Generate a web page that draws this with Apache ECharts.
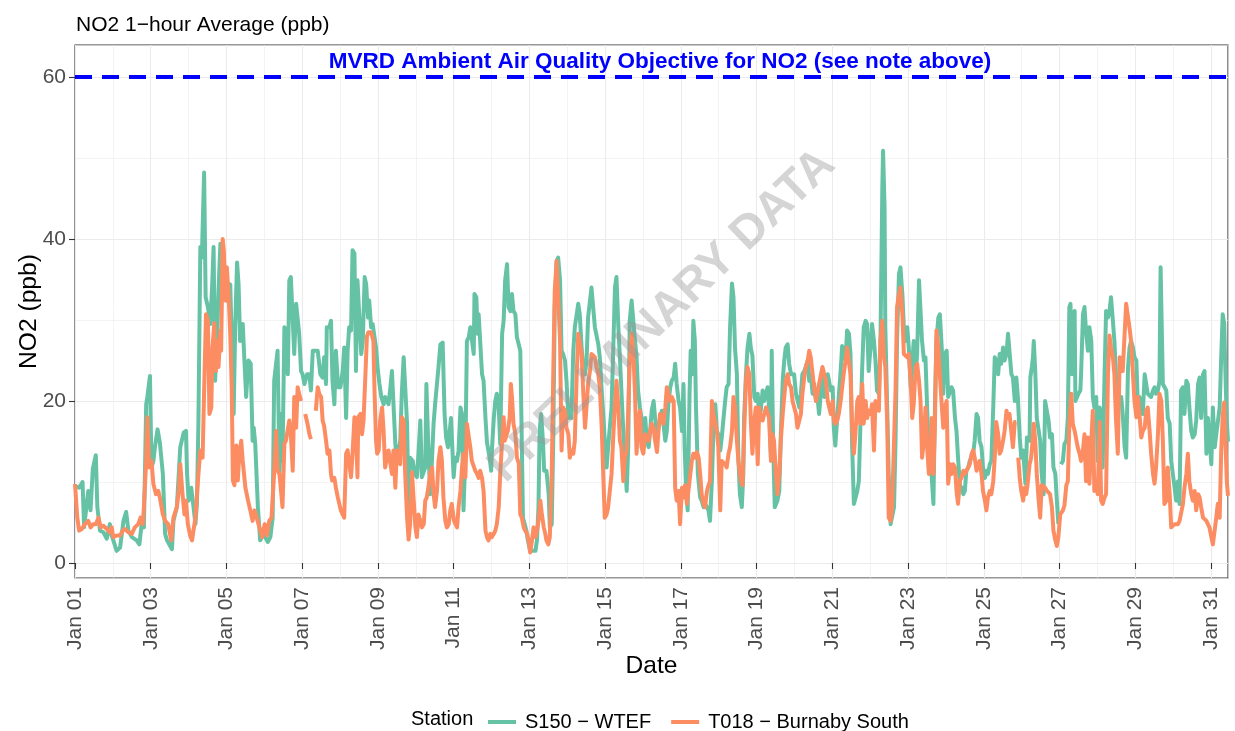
<!DOCTYPE html>
<html><head><meta charset="utf-8">
<script src="https://cdn.jsdelivr.net/npm/echarts@6/dist/echarts.min.js"></script>
<style>html,body{margin:0;padding:0;background:#fff}#c{width:1235px;height:731px}</style>
</head><body><div id="c"></div>
<script>
// Days since Jan 01 00:00, and NO2 (ppb) values
const s150 = [[0,9.5],[0.11,9.3],[0.2,10.0],[0.24,4.4],[0.35,8.9],[0.41,6.5],[0.47,11.6],[0.55,13.3],[0.59,6.9],[0.66,4.0],[0.75,3.8],[0.84,3.0],[0.92,4.8],[0.97,3.4],[1.1,1.5],[1.19,1.9],[1.28,5.2],[1.35,6.3],[1.41,4.0],[1.5,3.2],[1.63,2.8],[1.7,2.3],[1.76,4.8],[1.82,4.4],[1.88,19.6],[1.91,20.5],[1.98,23.1],[2.02,11.8],[2.07,12.6],[2.11,14.3],[2.18,16.5],[2.24,14.9],[2.32,11.0],[2.38,3.6],[2.43,2.8],[2.56,1.7],[2.6,5.2],[2.69,6.9],[2.78,14.3],[2.87,16.1],[2.93,16.3],[2.96,11.0],[3.0,7.7],[3.07,9.3],[3.13,6.9],[3.18,4.8],[3.22,7.3],[3.26,17.6],[3.31,39.0],[3.35,37.7],[3.41,48.2],[3.45,32.8],[3.51,31.6],[3.57,29.5],[3.62,34.0],[3.66,39.0],[3.7,22.5],[3.75,27.4],[3.79,33.6],[3.84,39.4],[3.88,33.6],[4.01,32.4],[4.1,34.4],[4.19,18.4],[4.23,29.1],[4.28,37.1],[4.32,34.4],[4.36,27.4],[4.43,29.5],[4.47,25.4],[4.52,20.5],[4.58,25.0],[4.64,24.6],[4.69,15.1],[4.72,16.7],[4.76,14.7],[4.83,6.9],[4.89,2.8],[4.98,3.6],[5.09,2.6],[5.16,3.2],[5.22,5.6],[5.26,22.5],[5.31,22.7],[5.35,26.2],[5.4,11.0],[5.44,18.4],[5.48,12.6],[5.53,29.1],[5.57,28.7],[5.62,23.3],[5.66,34.9],[5.7,35.3],[5.75,35.5],[5.79,25.8],[5.84,32.0],[5.88,32.0],[5.92,28.3],[5.97,23.7],[6.01,23.3],[6.06,22.1],[6.13,23.3],[6.19,23.3],[6.23,21.3],[6.28,26.2],[6.32,26.2],[6.41,26.2],[6.48,23.3],[6.54,22.9],[6.58,25.4],[6.63,22.1],[6.65,29.1],[6.72,29.1],[6.76,29.9],[6.8,22.5],[6.85,19.6],[6.89,26.2],[6.95,21.7],[7.01,21.7],[7.07,23.7],[7.11,26.6],[7.16,17.9],[7.2,26.2],[7.24,29.1],[7.29,28.7],[7.33,38.6],[7.38,38.2],[7.42,23.7],[7.46,34.9],[7.51,34.9],[7.56,25.8],[7.6,27.4],[7.65,35.3],[7.69,34.4],[7.74,30.3],[7.77,32.4],[7.82,29.1],[7.86,29.5],[7.91,29.5],[7.95,26.6],[8.0,23.7],[8.04,22.1],[8.09,20.5],[8.15,19.6],[8.19,20.5],[8.24,20.5],[8.28,19.6],[8.33,21.7],[8.37,23.7],[8.41,23.7],[8.46,14.7],[8.5,12.6],[8.55,13.9],[8.59,15.1],[8.63,20.9],[8.68,25.4],[8.72,25.4],[8.77,17.2],[8.81,6.0],[8.85,13.0],[8.92,12.6],[8.97,11.0],[9.03,10.6],[9.07,13.5],[9.12,17.6],[9.16,10.6],[9.21,10.6],[9.25,11.8],[9.28,22.1],[9.32,15.9],[9.38,8.5],[9.43,13.0],[9.47,17.2],[9.51,19.6],[9.56,19.6],[9.6,24.2],[9.65,27.0],[9.71,27.2],[9.76,18.4],[9.8,15.5],[9.85,14.3],[9.88,15.5],[9.93,17.9],[9.97,17.9],[10.0,10.6],[10.04,13.0],[10.09,12.6],[10.13,13.9],[10.18,19.2],[10.22,18.4],[10.26,6.5],[10.31,13.5],[10.35,27.4],[10.4,27.9],[10.44,29.1],[10.48,29.1],[10.53,25.8],[10.55,33.2],[10.6,32.8],[10.63,28.3],[10.66,30.7],[10.7,30.7],[10.75,23.3],[10.79,22.5],[10.84,17.9],[10.88,14.9],[10.92,14.7],[10.95,13.0],[10.99,11.4],[11.01,13.9],[11.06,17.9],[11.1,20.0],[11.14,20.9],[11.19,19.2],[11.23,14.7],[11.28,28.3],[11.32,29.9],[11.36,34.9],[11.41,36.9],[11.45,31.6],[11.5,31.1],[11.54,33.2],[11.58,31.1],[11.63,30.7],[11.67,27.9],[11.72,27.9],[11.76,26.2],[11.79,17.9],[11.83,5.6],[11.87,5.6],[11.92,4.0],[11.96,2.8],[12.02,1.5],[12.1,1.5],[12.16,1.5],[12.2,2.8],[12.24,6.9],[12.27,16.3],[12.31,18.4],[12.36,14.9],[12.39,11.4],[12.45,11.4],[12.51,8.5],[12.54,4.4],[12.59,4.8],[12.63,15.1],[12.67,31.6],[12.72,37.3],[12.76,37.7],[12.81,34.9],[12.85,26.2],[12.89,25.8],[12.94,25.0],[12.98,22.5],[13.03,17.9],[13.07,18.4],[13.11,17.9],[13.16,26.2],[13.2,29.1],[13.25,30.7],[13.29,32.0],[13.33,30.7],[13.38,26.6],[13.42,24.2],[13.47,23.3],[13.51,25.0],[13.55,30.3],[13.6,30.3],[13.64,34.0],[13.69,34.0],[13.73,29.1],[13.77,29.1],[13.82,27.0],[13.86,25.4],[13.91,21.3],[13.95,18.4],[13.99,15.1],[14.04,11.8],[14.08,14.3],[14.13,14.3],[14.17,19.2],[14.21,25.6],[14.26,34.0],[14.3,35.3],[14.35,29.1],[14.39,25.4],[14.43,21.3],[14.48,16.3],[14.52,16.3],[14.57,8.9],[14.61,14.3],[14.65,29.9],[14.7,32.4],[14.74,32.4],[14.79,27.4],[14.83,25.4],[14.87,21.3],[14.92,19.2],[14.96,17.9],[15.01,15.1],[15.06,17.9],[15.1,15.1],[15.15,14.3],[15.19,16.3],[15.23,18.8],[15.28,20.0],[15.32,17.9],[15.37,15.9],[15.41,15.9],[15.45,17.6],[15.5,18.8],[15.54,17.2],[15.59,15.1],[15.63,16.3],[15.67,19.6],[15.72,21.7],[15.76,22.5],[15.81,22.9],[15.85,24.6],[15.89,22.1],[15.94,20.0],[15.98,19.2],[16.03,16.3],[16.07,22.1],[16.1,14.3],[16.14,8.9],[16.18,6.5],[16.23,20.9],[16.26,26.2],[16.3,23.3],[16.33,29.9],[16.37,27.4],[16.4,19.2],[16.45,11.0],[16.51,8.1],[16.55,7.7],[16.6,6.9],[16.64,7.3],[16.69,6.9],[16.73,6.5],[16.77,5.2],[16.82,10.2],[16.86,16.3],[16.91,19.6],[16.95,16.3],[16.99,15.9],[17.04,13.9],[17.08,15.5],[17.13,15.5],[17.17,20.0],[17.21,21.7],[17.26,22.1],[17.3,29.1],[17.35,34.5],[17.39,32.8],[17.43,26.6],[17.48,23.3],[17.52,12.8],[17.56,8.5],[17.61,6.9],[17.65,11.0],[17.67,17.9],[17.72,23.3],[17.76,26.5],[17.81,28.3],[17.85,26.5],[17.89,25.6],[17.94,20.5],[17.98,20.0],[18.03,20.9],[18.07,18.4],[18.11,18.8],[18.16,21.3],[18.2,20.0],[18.25,20.9],[18.29,21.7],[18.33,19.2],[18.38,13.0],[18.4,26.2],[18.44,14.3],[18.48,6.9],[18.51,6.9],[18.55,7.7],[18.6,8.9],[18.64,15.9],[18.69,22.5],[18.73,25.0],[18.77,26.6],[18.82,27.0],[18.86,24.6],[18.91,23.3],[18.95,23.3],[18.99,23.3],[19.04,20.9],[19.08,20.9],[19.13,19.2],[19.17,20.9],[19.21,23.3],[19.26,23.7],[19.3,24.2],[19.35,25.0],[19.39,22.5],[19.43,23.3],[19.48,20.9],[19.52,22.1],[19.57,20.0],[19.61,20.5],[19.65,18.4],[19.7,18.4],[19.74,23.3],[19.79,20.5],[19.83,20.5],[19.88,23.3],[19.92,23.3],[19.96,21.3],[20.01,21.7],[20.04,16.7],[20.08,14.5],[20.13,17.9],[20.17,20.5],[20.22,23.7],[20.26,26.8],[20.3,26.6],[20.35,25.0],[20.39,28.7],[20.44,28.3],[20.48,25.8],[20.52,15.1],[20.57,7.3],[20.61,7.3],[20.66,8.9],[20.7,10.1],[20.74,16.7],[20.79,24.2],[20.83,29.1],[20.88,29.9],[20.92,29.5],[20.96,23.7],[21.01,26.6],[21.05,29.5],[21.1,27.4],[21.14,25.0],[21.18,21.3],[21.23,20.9],[21.27,26.6],[21.32,46.0],[21.34,50.9],[21.38,43.9],[21.4,29.1],[21.45,19.2],[21.49,11.0],[21.54,4.8],[21.58,4.8],[21.63,6.9],[21.67,15.1],[21.71,27.4],[21.76,35.7],[21.8,36.5],[21.85,33.2],[21.89,29.1],[21.93,27.4],[21.98,29.1],[22.02,26.6],[22.07,21.7],[22.11,21.7],[22.15,27.4],[22.2,23.3],[22.24,25.8],[22.29,34.9],[22.33,34.9],[22.37,27.4],[22.42,25.0],[22.46,25.4],[22.51,18.4],[22.55,12.6],[22.58,12.6],[22.62,11.0],[22.67,7.3],[22.71,19.2],[22.75,27.4],[22.8,30.3],[22.84,30.7],[22.89,26.6],[22.93,20.9],[22.97,25.8],[23.02,26.2],[23.06,20.5],[23.11,20.5],[23.15,21.7],[23.19,21.3],[23.24,17.9],[23.28,16.3],[23.32,13.0],[23.37,9.6],[23.41,9.3],[23.46,8.5],[23.5,8.9],[23.54,11.4],[23.59,11.8],[23.63,12.6],[23.68,12.6],[23.72,13.5],[23.76,15.1],[23.81,18.4],[23.85,17.9],[23.89,15.1],[23.94,14.3],[23.98,11.8],[24.03,10.5],[24.07,11.4],[24.11,11.0],[24.16,12.2],[24.2,12.6],[24.25,19.2],[24.29,25.4],[24.33,25.0],[24.38,23.3],[24.42,25.8],[24.46,24.6],[24.51,26.6],[24.55,25.0],[24.6,25.8],[24.64,28.3],[24.68,28.3],[24.73,23.3],[24.77,22.9],[24.82,20.0],[24.86,22.9],[24.9,20.5],[24.95,15.5],[24.99,13.0],[25.04,13.9],[25.1,9.8],[25.14,15.5],[25.21,15.1],[25.23,22.9],[25.27,24.2],[25.3,25.4],[25.32,27.4],[25.36,23.7],[25.4,17.9],[25.45,17.9],[25.49,15.1],[25.53,11.0],[25.58,8.5],[25.62,20.0],[25.67,20.0],[25.71,17.6],[25.75,15.5],[25.8,15.9],[25.84,11.8],[25.89,11.0],[25.93,7.7],[25.97,4.8],[26.0,null],[26.04,12.2],[26.09,12.6],[26.13,14.7],[26.18,15.1],[26.22,17.9],[26.26,31.6],[26.29,32.0],[26.33,23.3],[26.35,29.1],[26.4,31.1],[26.42,20.0],[26.47,20.0],[26.5,20.9],[26.55,21.3],[26.57,23.3],[26.62,30.7],[26.66,31.6],[26.7,28.7],[26.75,26.2],[26.79,29.1],[26.84,27.4],[26.88,20.5],[26.92,19.2],[26.97,20.5],[27.01,12.6],[27.06,19.2],[27.1,17.2],[27.14,11.8],[27.19,23.3],[27.23,31.1],[27.28,30.3],[27.32,31.1],[27.36,32.8],[27.41,29.9],[27.45,27.4],[27.49,23.3],[27.54,19.2],[27.59,20.0],[27.63,20.5],[27.67,18.4],[27.72,14.3],[27.76,13.0],[27.81,24.2],[27.85,26.6],[27.89,27.4],[27.94,26.6],[27.98,25.4],[28.03,25.0],[28.07,19.2],[28.11,20.5],[28.16,19.2],[28.2,18.4],[28.25,23.3],[28.29,23.3],[28.33,20.9],[28.38,20.9],[28.42,20.5],[28.47,21.3],[28.51,21.7],[28.55,20.9],[28.6,21.3],[28.64,22.5],[28.67,36.5],[28.7,36.5],[28.73,22.1],[28.77,22.1],[28.82,21.3],[28.86,17.9],[28.91,17.2],[28.95,12.6],[28.99,12.6],[29.04,9.3],[29.08,7.7],[29.13,10.1],[29.17,7.3],[29.21,21.3],[29.26,21.7],[29.3,18.4],[29.35,22.5],[29.39,22.1],[29.43,19.2],[29.48,16.3],[29.52,15.5],[29.57,15.9],[29.61,17.6],[29.66,22.1],[29.7,22.9],[29.74,17.9],[29.79,23.3],[29.83,23.7],[29.88,13.5],[29.92,17.9],[29.96,17.9],[30.01,12.2],[30.05,19.2],[30.1,14.3],[30.14,15.9],[30.18,15.9],[30.23,19.2],[30.27,25.4],[30.31,30.7],[30.35,29.5],[30.39,22.0],[30.42,17.5],[30.45,15.0]];

const t018 = [[0,9.75],[0.06,5.6],[0.11,4.0],[0.18,4.2],[0.26,4.8],[0.35,5.2],[0.41,4.4],[0.48,4.8],[0.55,4.8],[0.62,5.6],[0.68,4.4],[0.75,4.6],[0.84,4.2],[0.91,3.8],[0.97,4.4],[1.01,3.2],[1.1,3.4],[1.19,3.4],[1.26,4.0],[1.32,4.2],[1.41,3.8],[1.5,3.6],[1.58,4.4],[1.67,4.8],[1.73,5.6],[1.79,4.8],[1.82,6.9],[1.88,12.6],[1.91,18.0],[1.96,11.8],[2.02,12.6],[2.07,9.75],[2.14,8.5],[2.2,8.9],[2.24,8.1],[2.32,6.0],[2.38,5.2],[2.46,4.8],[2.54,2.8],[2.6,5.6],[2.69,6.9],[2.74,8.9],[2.78,12.2],[2.84,8.5],[2.89,6.0],[2.93,7.7],[2.98,4.8],[3.04,3.4],[3.09,2.8],[3.18,5.6],[3.26,11.0],[3.31,13.9],[3.37,13.0],[3.42,23.3],[3.46,30.7],[3.51,29.9],[3.55,18.4],[3.6,19.2],[3.63,26.6],[3.68,29.6],[3.72,23.7],[3.77,27.4],[3.79,24.2],[3.84,28.7],[3.86,26.2],[3.9,40.0],[3.93,38.6],[3.97,32.4],[4.01,36.5],[4.06,32.8],[4.1,28.3],[4.14,21.3],[4.17,10.2],[4.21,9.6],[4.26,14.5],[4.3,10.2],[4.34,13.5],[4.39,15.1],[4.43,12.6],[4.5,9.3],[4.57,7.7],[4.63,6.5],[4.69,5.2],[4.74,6.5],[4.8,5.6],[4.87,4.4],[4.94,3.2],[5.01,4.8],[5.07,3.4],[5.13,5.2],[5.19,5.6],[5.25,10.3],[5.31,16.3],[5.35,11.4],[5.4,11.0],[5.44,8.9],[5.48,6.9],[5.53,14.7],[5.57,15.1],[5.62,15.1],[5.66,17.6],[5.7,15.9],[5.75,11.4],[5.79,20.5],[5.84,16.7],[5.88,21.7],[5.92,20.9],[5.97,20.0],[6.02,null],[6.08,18.4],[6.14,17.2],[6.19,15.9],[6.23,15.3],[6.3,null],[6.36,18.8],[6.41,21.7],[6.45,20.9],[6.5,20.5],[6.54,17.6],[6.58,16.9],[6.63,15.1],[6.67,13.5],[6.72,13.9],[6.76,11.0],[6.79,10.2],[6.85,10.5],[6.89,9.3],[6.94,8.1],[6.98,7.3],[7.02,6.5],[7.07,6.0],[7.11,5.6],[7.16,13.5],[7.2,13.9],[7.24,13.7],[7.29,10.6],[7.33,13.5],[7.38,18.0],[7.42,16.3],[7.46,10.6],[7.48,18.0],[7.54,18.4],[7.58,15.9],[7.62,17.6],[7.67,23.3],[7.71,28.0],[7.75,28.5],[7.82,28.5],[7.88,27.4],[7.91,21.3],[7.95,15.1],[7.98,13.5],[8.02,13.9],[8.06,17.6],[8.11,19.2],[8.15,16.3],[8.19,11.8],[8.24,13.0],[8.28,13.9],[8.33,13.9],[8.37,11.0],[8.41,13.9],[8.46,9.3],[8.5,13.9],[8.55,13.5],[8.59,12.2],[8.63,18.0],[8.68,17.6],[8.72,11.0],[8.77,5.6],[8.81,2.9],[8.85,4.8],[8.9,11.2],[8.94,8.1],[8.99,4.4],[9.03,3.2],[9.07,6.0],[9.12,5.2],[9.16,4.4],[9.21,4.8],[9.25,7.7],[9.29,8.1],[9.34,9.6],[9.38,11.0],[9.43,11.8],[9.47,8.5],[9.51,6.9],[9.56,8.9],[9.6,12.6],[9.65,14.3],[9.69,12.6],[9.73,8.1],[9.78,5.2],[9.82,4.4],[9.87,4.8],[9.91,6.5],[9.95,7.3],[10.01,5.2],[10.04,5.2],[10.09,4.4],[10.13,6.9],[10.18,8.9],[10.22,11.8],[10.26,13.5],[10.31,10.6],[10.35,17.2],[10.4,17.2],[10.44,14.3],[10.48,12.6],[10.53,12.6],[10.57,11.4],[10.62,11.0],[10.66,10.5],[10.7,11.4],[10.75,10.5],[10.79,8.9],[10.84,4.0],[10.88,3.2],[10.92,2.8],[10.97,3.6],[11.01,3.2],[11.06,3.6],[11.1,4.0],[11.14,4.8],[11.19,6.9],[11.23,11.0],[11.28,15.1],[11.32,18.0],[11.35,15.1],[11.39,15.1],[11.43,16.3],[11.48,18.0],[11.51,22.1],[11.54,20.5],[11.58,17.2],[11.63,15.9],[11.67,13.0],[11.72,12.3],[11.76,6.0],[11.8,5.6],[11.85,4.4],[11.89,4.0],[11.94,3.6],[11.98,2.8],[12.02,1.3],[12.07,2.8],[12.11,4.4],[12.16,3.2],[12.2,4.0],[12.24,5.2],[12.29,7.7],[12.33,6.0],[12.38,4.4],[12.42,3.6],[12.45,2.8],[12.5,2.3],[12.54,3.2],[12.59,11.0],[12.63,23.3],[12.67,33.6],[12.72,37.3],[12.76,37.3],[12.81,27.4],[12.85,13.9],[12.89,19.2],[12.94,18.8],[12.98,16.7],[13.03,15.9],[13.07,13.0],[13.11,13.9],[13.16,13.5],[13.2,15.1],[13.25,23.3],[13.29,28.3],[13.33,28.3],[13.38,25.8],[13.42,21.3],[13.47,16.7],[13.51,16.7],[13.55,22.1],[13.6,23.7],[13.64,25.8],[13.69,25.8],[13.73,25.4],[13.77,24.2],[13.82,23.3],[13.86,21.7],[13.91,16.7],[13.95,11.0],[13.99,5.6],[14.04,6.0],[14.08,6.9],[14.13,6.9],[14.17,11.0],[14.21,15.1],[14.26,19.6],[14.3,22.5],[14.35,19.2],[14.39,15.1],[14.43,14.3],[14.48,10.1],[14.52,13.0],[14.57,13.9],[14.61,18.8],[14.65,24.9],[14.7,28.3],[14.74,26.6],[14.79,20.9],[14.83,13.5],[14.87,17.2],[14.92,18.8],[14.96,14.3],[15.01,13.5],[15.06,15.9],[15.1,15.9],[15.15,15.1],[15.19,16.3],[15.23,17.2],[15.28,16.7],[15.32,15.1],[15.37,13.7],[15.41,16.3],[15.45,18.4],[15.5,17.9],[15.54,17.2],[15.59,19.2],[15.63,21.7],[15.67,20.9],[15.72,20.0],[15.76,20.5],[15.81,20.0],[15.85,9.3],[15.89,7.7],[15.94,8.9],[15.98,4.8],[16.03,9.3],[16.07,8.1],[16.11,9.6],[16.16,7.3],[16.2,8.9],[16.25,11.0],[16.29,12.6],[16.33,13.5],[16.38,13.0],[16.42,13.7],[16.47,13.0],[16.51,11.0],[16.55,8.5],[16.6,7.3],[16.64,6.9],[16.69,8.9],[16.73,9.6],[16.77,10.1],[16.82,20.0],[16.86,18.4],[16.91,17.2],[16.95,16.3],[16.99,14.3],[17.04,6.5],[17.08,12.6],[17.13,12.6],[17.17,12.2],[17.21,11.8],[17.26,13.5],[17.3,14.3],[17.35,16.3],[17.39,20.5],[17.43,19.2],[17.48,15.1],[17.52,12.6],[17.56,11.0],[17.59,10.1],[17.63,9.6],[17.67,15.9],[17.72,22.5],[17.76,24.2],[17.81,23.3],[17.85,17.2],[17.89,13.5],[17.94,17.6],[17.98,19.2],[18.03,12.2],[18.07,19.2],[18.11,17.9],[18.16,17.6],[18.2,18.4],[18.25,19.2],[18.29,19.2],[18.33,17.9],[18.38,12.6],[18.42,15.9],[18.46,15.1],[18.51,11.0],[18.55,8.5],[18.6,11.0],[18.64,15.1],[18.69,18.4],[18.73,20.5],[18.77,22.5],[18.82,23.3],[18.86,22.1],[18.91,21.7],[18.95,20.0],[18.99,20.0],[19.04,18.4],[19.08,16.7],[19.13,16.7],[19.17,18.4],[19.21,20.9],[19.26,22.9],[19.3,24.2],[19.35,25.0],[19.39,26.2],[19.43,25.4],[19.48,23.3],[19.52,21.7],[19.57,20.0],[19.61,20.0],[19.65,22.1],[19.7,23.3],[19.74,24.2],[19.79,24.2],[19.83,22.5],[19.88,20.0],[19.92,19.2],[19.96,18.4],[20.01,20.0],[20.04,17.6],[20.08,17.2],[20.13,17.6],[20.17,18.4],[20.22,20.0],[20.26,21.7],[20.3,23.3],[20.35,25.0],[20.39,26.6],[20.44,26.6],[20.48,23.3],[20.52,17.2],[20.57,13.5],[20.61,15.9],[20.66,20.0],[20.7,20.5],[20.74,17.2],[20.79,22.1],[20.83,17.2],[20.88,20.0],[20.92,17.9],[20.96,18.8],[21.01,18.4],[21.05,19.6],[21.1,13.9],[21.14,20.0],[21.18,19.2],[21.23,18.8],[21.27,27.4],[21.32,29.9],[21.36,25.6],[21.4,24.2],[21.45,17.2],[21.49,5.6],[21.54,5.2],[21.58,6.9],[21.63,15.1],[21.67,21.3],[21.71,31.6],[21.76,33.2],[21.8,34.0],[21.85,30.7],[21.89,25.8],[21.93,25.8],[21.98,25.4],[22.02,25.8],[22.07,22.5],[22.11,17.9],[22.15,19.6],[22.2,24.2],[22.24,24.6],[22.29,22.5],[22.33,20.0],[22.37,13.0],[22.42,15.1],[22.46,19.2],[22.51,13.9],[22.55,11.0],[22.58,11.4],[22.62,17.9],[22.67,11.0],[22.71,17.0],[22.75,28.7],[22.8,26.6],[22.84,23.3],[22.89,19.5],[22.93,16.7],[22.97,19.2],[23.02,20.0],[23.06,9.8],[23.11,12.2],[23.15,11.0],[23.19,12.2],[23.24,11.8],[23.28,8.9],[23.32,7.3],[23.37,10.2],[23.41,10.5],[23.46,11.4],[23.5,11.0],[23.54,11.0],[23.59,11.8],[23.63,12.2],[23.68,13.5],[23.72,13.9],[23.76,13.0],[23.81,11.4],[23.85,11.4],[23.89,12.6],[23.94,11.0],[23.98,8.9],[24.03,7.7],[24.07,6.5],[24.11,8.1],[24.16,8.9],[24.2,8.5],[24.25,10.1],[24.29,13.0],[24.33,17.4],[24.38,15.9],[24.42,13.5],[24.46,13.9],[24.51,15.1],[24.55,16.3],[24.6,18.8],[24.64,17.9],[24.68,18.4],[24.73,18.4],[24.77,14.3],[24.82,17.4],[24.86,17.4],[24.88,null],[24.91,13.0],[24.95,10.5],[24.99,8.9],[25.04,7.7],[25.08,9.3],[25.12,8.5],[25.16,9.8],[25.21,12.2],[25.25,13.0],[25.29,15.1],[25.32,17.2],[25.36,15.1],[25.4,11.0],[25.45,7.7],[25.49,5.6],[25.53,9.6],[25.58,9.6],[25.62,9.3],[25.67,8.9],[25.71,8.9],[25.75,8.5],[25.8,6.9],[25.84,4.0],[25.89,2.8],[25.93,2.1],[25.97,3.2],[26.02,6.0],[26.09,6.5],[26.13,7.1],[26.18,9.6],[26.22,10.1],[26.26,17.2],[26.31,20.9],[26.35,17.2],[26.4,16.3],[26.44,16.3],[26.48,14.3],[26.53,13.5],[26.57,12.6],[26.62,13.9],[26.66,15.9],[26.7,10.1],[26.75,15.5],[26.79,9.8],[26.84,15.1],[26.88,18.8],[26.92,8.9],[26.97,9.6],[27.01,8.5],[27.06,17.4],[27.1,7.7],[27.14,7.3],[27.19,8.1],[27.23,8.5],[27.28,23.3],[27.32,28.1],[27.36,26.6],[27.41,25.4],[27.45,23.3],[27.49,17.9],[27.54,13.5],[27.59,25.4],[27.63,25.4],[27.67,23.7],[27.72,28.3],[27.76,32.0],[27.81,32.0],[27.85,29.0],[27.89,27.4],[27.94,23.3],[27.98,20.0],[28.03,18.0],[28.07,20.5],[28.11,18.4],[28.16,15.5],[28.2,16.3],[28.25,16.7],[28.29,18.8],[28.33,19.2],[28.38,16.3],[28.42,13.5],[28.47,11.0],[28.51,9.8],[28.55,11.8],[28.6,15.9],[28.64,20.9],[28.69,20.0],[28.73,15.1],[28.77,7.3],[28.82,7.7],[28.86,11.8],[28.91,8.5],[28.95,4.4],[28.99,4.4],[29.04,4.8],[29.08,4.8],[29.13,4.8],[29.17,5.2],[29.21,5.2],[29.26,7.3],[29.3,9.3],[29.35,11.0],[29.39,13.5],[29.43,10.1],[29.48,8.5],[29.52,7.7],[29.57,8.9],[29.61,6.5],[29.66,8.5],[29.7,8.1],[29.74,6.9],[29.79,5.6],[29.83,5.6],[29.88,5.2],[29.92,5.2],[29.96,4.4],[30.01,3.2],[30.05,2.3],[30.1,2.3],[30.14,5.6],[30.18,7.3],[30.23,5.6],[30.27,13.7],[30.31,18.2],[30.35,19.8],[30.39,14.0],[30.42,10.0],[30.45,8.3]];

const seriesNames = ['S150 \u2212 WTEF', 'T018 \u2212 Burnaby South'];
const seriesColors = ['#66C2A5', '#FC8D62'];
const xTickDays = [0,2,4,6,8,10,12,14,16,18,20,22,24,26,28,30];
const xTickLabels = ['Jan 01','Jan 03','Jan 05','Jan 07','Jan 09','Jan 11','Jan 13','Jan 15','Jan 17','Jan 19','Jan 21','Jan 23','Jan 25','Jan 27','Jan 29','Jan 31'];
const yTicks = [0,20,40,60];
const objectiveValue = 60;
const X_MIN = 0, X_MAX = 30.45, Y_MIN = -1.85, Y_MAX = 63.95;

const FONT = 'Liberation Sans, Arial, Helvetica, sans-serif';
const toData = arr => arr.map(p => [p[0], p[1] === null ? '-' : p[1]]);
const xLabel = v => { const i = xTickDays.indexOf(Math.round(v*1000)/1000); return i >= 0 ? xTickLabels[i] : ''; };
const yLabel = v => yTicks.indexOf(v) >= 0 ? String(v) : '';

const chart = echarts.init(document.getElementById('c'), null, {renderer: 'canvas'});
const gridColor = '#EBEBEB';
chart.setOption({
  animation: false,
  backgroundColor: '#fff',
  textStyle: {fontFamily: FONT},
  title: {text: 'NO2 1\u2212hour Average (ppb)', left: 71, top: 10,
    textStyle: {fontFamily: FONT, fontSize: 21, fontWeight: 'normal', color: '#000'}},
  grid: {left: 75, right: 7, top: 45, bottom: 153, show: true, borderColor: '#333333', borderWidth: 1.1, backgroundColor: '#fff'},
  xAxis: [
    {type: 'value', min: X_MIN, max: X_MAX, interval: 2,
     axisLine: {show: false},
     axisTick: {show: true, length: 6, customValues: xTickDays, lineStyle: {color: '#333333', width: 1.1}},
     axisLabel: {customValues: xTickDays, formatter: xLabel, rotate: 90, margin: 9, color: '#4D4D4D', fontSize: 21, fontFamily: FONT},
     splitLine: {show: true, lineStyle: {color: gridColor, width: 1.1}},
     name: 'Date', nameLocation: 'middle', nameGap: 76, nameMoveOverlap: false,
     nameTextStyle: {fontSize: 24.6, color: '#000', fontFamily: FONT}},
    {type: 'value', min: X_MIN, max: X_MAX, interval: 1,
     axisLine: {show: false}, axisTick: {show: false}, axisLabel: {show: false},
     splitLine: {show: true, lineStyle: {color: gridColor, width: 0.6}}}
  ],
  yAxis: [
    {type: 'value', min: Y_MIN, max: Y_MAX, splitNumber: 3,
     axisLine: {show: false},
     axisTick: {show: true, length: 6, customValues: yTicks, lineStyle: {color: '#333333', width: 1.1}},
     axisLabel: {customValues: yTicks, formatter: yLabel, margin: 9, color: '#4D4D4D', fontSize: 21, fontFamily: FONT},
     splitLine: {show: true, lineStyle: {color: gridColor, width: 1.1}},
     name: 'NO2 (ppb)', nameLocation: 'middle', nameGap: 33, nameRotate: 90, nameMoveOverlap: false,
     nameTextStyle: {fontSize: 24.6, color: '#000', fontFamily: FONT}},
    {type: 'value', min: Y_MIN, max: Y_MAX, splitNumber: 6, position: 'left',
     axisLine: {show: false}, axisTick: {show: false}, axisLabel: {show: false},
     splitLine: {show: true, lineStyle: {color: gridColor, width: 0.6}}}
  ],
  legend: {left: 483, top: 707, itemWidth: 28, itemHeight: 4, itemGap: 20, icon: 'rect',
    textStyle: {fontSize: 20, color: '#000', fontFamily: FONT, padding: [0, 0, 0, 4]},
    data: seriesNames},
  series: [
    {name: seriesNames[0], type: 'line', xAxisIndex: 0, yAxisIndex: 0, data: toData(s150),
     showSymbol: false, symbol: 'none', connectNulls: false, clip: true,
     lineStyle: {color: seriesColors[0], width: 4, cap: 'butt', join: 'round'},
     itemStyle: {color: seriesColors[0]},
     markLine: {silent: true, symbol: ['none', 'none'], label: {show: false},
       lineStyle: {color: '#0000FF', width: 4, type: [17, 10]},
       data: [{yAxis: objectiveValue}]}},
    {name: seriesNames[1], type: 'line', xAxisIndex: 0, yAxisIndex: 0, data: toData(t018),
     showSymbol: false, symbol: 'none', connectNulls: false, clip: true,
     lineStyle: {color: seriesColors[1], width: 4, cap: 'butt', join: 'round'},
     itemStyle: {color: seriesColors[1]}}
  ],
  graphic: [
    {type: 'text', left: 411, top: 709, style: {text: 'Station', font: '20px ' + FONT, fill: '#000'}},
    {type: 'text', x: 660, y: 62, z: 100,
     style: {text: 'MVRD Ambient Air Quality Objective for NO2 (see note above)', font: 'bold 22.5px ' + FONT,
       fill: '#0000FF', align: 'center', verticalAlign: 'middle'}},
    {type: 'text', x: 662, y: 316, rotation: 0.763, z: 100,
     style: {text: 'PRELIMINARY DATA', font: 'bold 47px ' + FONT, fill: 'rgba(150,150,150,0.4)',
       align: 'center', verticalAlign: 'middle'}}
  ]
});
</script></body></html>
